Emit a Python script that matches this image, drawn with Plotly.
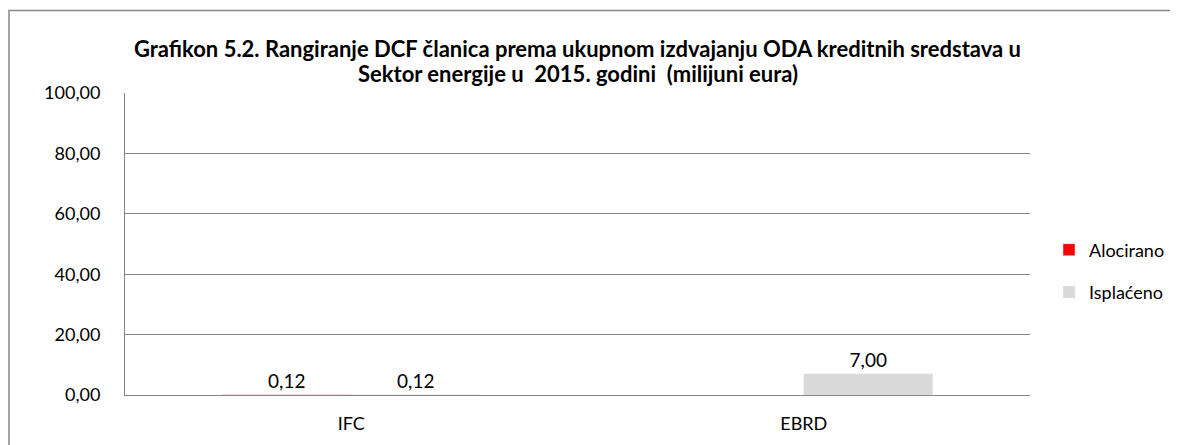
import plotly.graph_objects as go

categories = ["IFC", "EBRD"]
alocirano = [0.12, None]
isplaceno = [0.12, 7.00]
series_names = ["Alocirano", "Isplaćeno"]
y_ticks = [0, 20, 40, 60, 80, 100]
title_lines = [
    "Grafikon 5.2. Rangiranje DCF članica prema ukupnom izdvajanju ODA kreditnih sredstava u",
    "Sektor energije u  2015. godini  (milijuni eura)",
]

FONT = "Lato, Carlito, Calibri, sans-serif"
OFF = 8  # page body margin

fig = go.Figure()
fig.add_trace(go.Bar(
    x=categories, y=alocirano, name=series_names[0],
    marker_color="#ff0000", legendgroup="a",
    texttemplate="%{y:.2f}", textposition="outside",
    textfont=dict(size=19, color="black", family=FONT), cliponaxis=False,
))
fig.add_trace(go.Bar(
    x=categories, y=isplaceno, name=series_names[1],
    marker_color="#d9d9d9", legendgroup="b",
    texttemplate="%{y:.2f}", textposition="outside",
    textfont=dict(size=19, color="black", family=FONT), cliponaxis=False,
))

W, H = 1178 - OFF, 445 - OFF
L = 125 - OFF
T = 93 - OFF
R = W - (1030 - OFF)
B = H - (395 - OFF)
pw, ph = W - L - R, H - T - B

annotations = []
for line, yref_px in zip(title_lines, [48, 73]):
    annotations.append(dict(
        text="<b>" + line + "</b>", xref="paper", yref="paper",
        x=0.5, xanchor="center",
        y=1 + (T - (yref_px - OFF)) / ph, yanchor="middle",
        showarrow=False, font=dict(size=22, family=FONT, color="black"),
    ))

fig.update_layout(
    width=W, height=H,
    margin=dict(l=L, r=R, t=T, b=B, autoexpand=False),
    paper_bgcolor="white", plot_bgcolor="white",
    separators=", ",
    barmode="group", bargap=0.43, bargroupgap=0,
    font=dict(family=FONT, size=19, color="black"),
    annotations=annotations,
    legend=dict(
        x=(1049 - OFF - L) / pw, xanchor="left",
        y=(395 - 271) / ph, yanchor="middle",
        font=dict(size=18, family=FONT),
        traceorder="grouped", tracegroupgap=16,
        itemwidth=30,
    ),
    xaxis=dict(
        showline=True, linecolor="#868686", linewidth=1,
        ticks="", ticklabelstandoff=12,
        tickfont=dict(size=18),
    ),
    yaxis=dict(
        range=[0, 100], tickvals=y_ticks, tickformat=".2f",
        showgrid=True, gridcolor="#868686", gridwidth=1,
        showline=True, linecolor="#868686", linewidth=1,
        zeroline=False, ticks="", ticklabelstandoff=20,
        tickfont=dict(size=18),
    ),
    shapes=[dict(
        type="rect", xref="paper", yref="paper",
        x0=(1 - L) / pw, x1=(W + 20 - L) / pw,
        y0=-(B + 20) / ph, y1=1 + (T - 2.5) / ph,
        line=dict(color="#868686", width=1.5), fillcolor="rgba(0,0,0,0)",
        layer="below",
    )],
)

fig.write_html("out.html")
